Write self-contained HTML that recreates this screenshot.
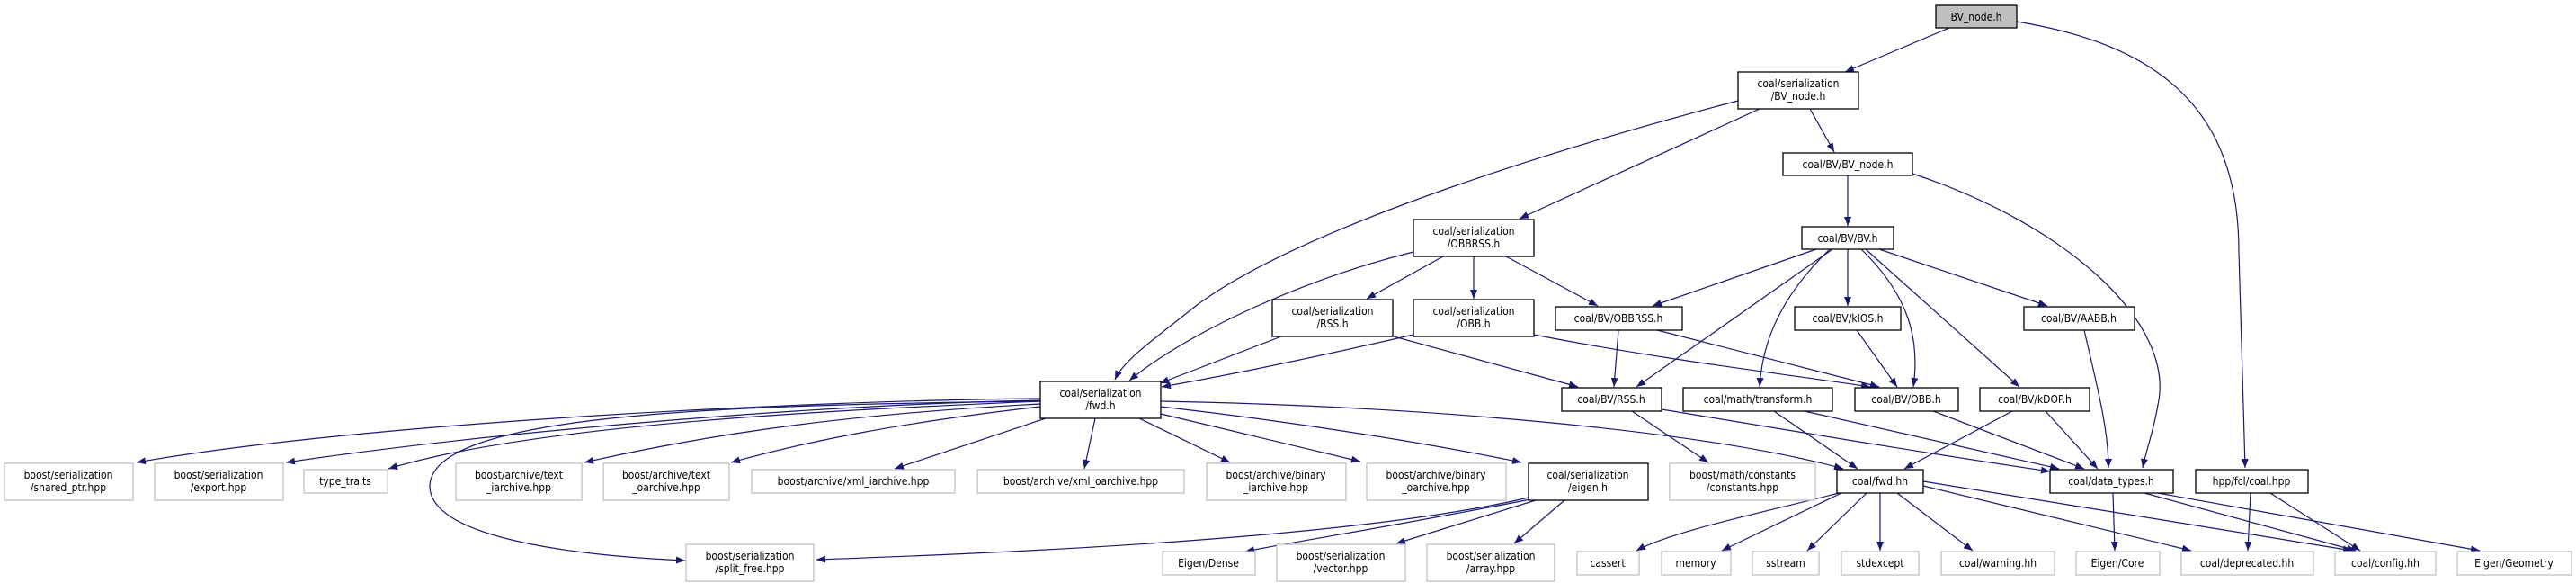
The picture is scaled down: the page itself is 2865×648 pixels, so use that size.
<!DOCTYPE html>
<html><head><meta charset="utf-8"><style>
html,body{margin:0;padding:0;background:#fff;}
svg{display:block;}
text{font-family:"DejaVu Sans Condensed","DejaVu Sans","Liberation Sans",sans-serif;font-size:12px;fill:#000;text-anchor:middle;}
.e{fill:none;stroke:#191970;stroke-width:1.2;marker-end:url(#a);}
.n{fill:#fff;stroke:#000;stroke-width:1.3;}
.x{fill:#fff;stroke:#bfbfbf;stroke-width:1.3;}
</style></head><body>
<svg width="2865" height="648" viewBox="0 0 2865 648" xmlns="http://www.w3.org/2000/svg">
<defs><marker id="a" markerUnits="userSpaceOnUse" markerWidth="11" markerHeight="8" refX="10" refY="4" orient="auto"><path d="M0,0 L10,4 L0,8 z" fill="#191970"/></marker></defs>
<!-- edges -->
<path class="e" d="M2168,31 L2052,80"/>
<path class="e" d="M2243,24 C2400,50 2490,120 2490,280 L2497,520"/>
<path class="e" d="M1933,112 C1750,160 1450,250 1330,340 C1280,380 1250,400 1240,422"/>
<path class="e" d="M1957,121 L1690,243"/>
<path class="e" d="M2013,121 L2040,169"/>
<path class="e" d="M2055,195 L2055,251"/>
<path class="e" d="M2127,193 C2300,250 2420,360 2400,450 C2395,480 2387,500 2383,520"/>
<path class="e" d="M2020,277 L1838,340"/>
<path class="e" d="M2038,277 L1820,430"/>
<path class="e" d="M2035,277 C1980,330 1960,380 1957,430"/>
<path class="e" d="M2055,277 L2055,340"/>
<path class="e" d="M2070,277 C2125,330 2135,380 2128,430"/>
<path class="e" d="M2075,277 L2246,430"/>
<path class="e" d="M2090,277 L2277,340"/>
<path class="e" d="M1572,280 C1450,310 1320,370 1256,423"/>
<path class="e" d="M1605,285 L1520,332"/>
<path class="e" d="M1639,285 L1639,332"/>
<path class="e" d="M1675,285 L1777,340"/>
<path class="e" d="M1425,374 L1290,426"/>
<path class="e" d="M1550,374 L1755,430"/>
<path class="e" d="M1572,372 C1450,400 1350,420 1292,430"/>
<path class="e" d="M1706,372 C1850,400 1980,415 2080,430"/>
<path class="e" d="M1800,367 L1795,430"/>
<path class="e" d="M1843,367 L2090,430"/>
<path class="e" d="M2065,367 L2110,430"/>
<path class="e" d="M2318,367 C2335,440 2345,480 2345,520"/>
<path class="e" d="M1815,457 L1900,514"/>
<path class="e" d="M1848,455 C2000,480 2150,505 2280,524"/>
<path class="e" d="M1973,457 L2066,521"/>
<path class="e" d="M2007,457 L2290,521"/>
<path class="e" d="M2150,457 L2318,521"/>
<path class="e" d="M2238,457 L2118,521"/>
<path class="e" d="M2275,457 L2333,521"/>
<path class="e" d="M1157,443 C900,445 400,470 152,514"/>
<path class="e" d="M1157,445 C900,450 550,480 318,514"/>
<path class="e" d="M1157,446 C950,455 600,470 432,521"/>
<path class="e" d="M1157,446 C800,450 480,460 478,540 C478,600 650,618 762,623"/>
<path class="e" d="M1157,449 C950,460 800,480 650,514"/>
<path class="e" d="M1157,452 C1000,470 900,490 813,514"/>
<path class="e" d="M1163,465 L995,521"/>
<path class="e" d="M1218,465 L1206,521"/>
<path class="e" d="M1267,465 L1368,514"/>
<path class="e" d="M1291,460 L1513,513"/>
<path class="e" d="M1291,452 C1450,470 1600,495 1692,514"/>
<path class="e" d="M1291,446 C1600,452 1900,480 2050,521"/>
<path class="e" d="M1700,553 C1500,600 1100,615 908,622"/>
<path class="e" d="M1702,555 C1550,585 1450,600 1385,613"/>
<path class="e" d="M1708,556 L1553,604"/>
<path class="e" d="M1740,556 L1684,604"/>
<path class="e" d="M2045,548 C1960,570 1860,590 1820,612"/>
<path class="e" d="M2048,548 L1915,612"/>
<path class="e" d="M2076,548 L2010,612"/>
<path class="e" d="M2091,548 L2091,612"/>
<path class="e" d="M2110,548 L2194,612"/>
<path class="e" d="M2139,540 L2437,612"/>
<path class="e" d="M2139,535 L2616,612"/>
<path class="e" d="M2350,548 L2352,612"/>
<path class="e" d="M2385,548 L2620,612"/>
<path class="e" d="M2400,548 L2758,612"/>
<path class="e" d="M2503,548 L2500,612"/>
<path class="e" d="M2525,548 L2625,612"/>
<!-- nodes -->
<rect x="2153" y="6" width="90" height="25" fill="#bfbfbf" stroke="#000" stroke-width="1.3"/><text x="2198" y="23">BV_node.h</text>
<rect class="n" x="1933" y="80" width="134" height="41"/><text x="2000" y="97">coal/serialization</text><text x="2000" y="111">/BV_node.h</text>
<rect class="n" x="1983" y="170" width="144" height="25"/><text x="2055" y="187">coal/BV/BV_node.h</text>
<rect class="n" x="2004" y="252" width="102" height="25"/><text x="2055" y="269">coal/BV/BV.h</text>
<rect class="n" x="1572" y="244" width="134" height="41"/><text x="1639" y="261">coal/serialization</text><text x="1639" y="275">/OBBRSS.h</text>
<rect class="n" x="1415" y="333" width="134" height="41"/><text x="1482" y="350">coal/serialization</text><text x="1482" y="364">/RSS.h</text>
<rect class="n" x="1572" y="333" width="134" height="41"/><text x="1639" y="350">coal/serialization</text><text x="1639" y="364">/OBB.h</text>
<rect class="n" x="1730" y="341" width="141" height="26"/><text x="1800" y="358">coal/BV/OBBRSS.h</text>
<rect class="n" x="1996" y="341" width="118" height="26"/><text x="2055" y="358">coal/BV/kIOS.h</text>
<rect class="n" x="2251" y="341" width="123" height="26"/><text x="2312" y="358">coal/BV/AABB.h</text>
<rect class="n" x="1157" y="424" width="134" height="41"/><text x="1224" y="441">coal/serialization</text><text x="1224" y="455">/fwd.h</text>
<rect class="n" x="1737" y="431" width="111" height="26"/><text x="1792" y="448">coal/BV/RSS.h</text>
<rect class="n" x="1872" y="431" width="166" height="26"/><text x="1955" y="448">coal/math/transform.h</text>
<rect class="n" x="2063" y="431" width="115" height="26"/><text x="2120" y="448">coal/BV/OBB.h</text>
<rect class="n" x="2202" y="431" width="122" height="26"/><text x="2263" y="448">coal/BV/kDOP.h</text>
<rect class="x" x="5" y="515" width="143" height="41"/><text x="76" y="532">boost/serialization</text><text x="76" y="546">/shared_ptr.hpp</text>
<rect class="x" x="172" y="515" width="143" height="41"/><text x="243" y="532">boost/serialization</text><text x="243" y="546">/export.hpp</text>
<rect class="x" x="338" y="522" width="93" height="26"/><text x="384" y="539">type_traits</text>
<rect class="x" x="507" y="515" width="140" height="41"/><text x="577" y="532">boost/archive/text</text><text x="577" y="546">_iarchive.hpp</text>
<rect class="x" x="671" y="515" width="140" height="41"/><text x="741" y="532">boost/archive/text</text><text x="741" y="546">_oarchive.hpp</text>
<rect class="x" x="836" y="522" width="226" height="26"/><text x="949" y="539">boost/archive/xml_iarchive.hpp</text>
<rect class="x" x="1087" y="522" width="230" height="26"/><text x="1202" y="539">boost/archive/xml_oarchive.hpp</text>
<rect class="x" x="1342" y="515" width="155" height="41"/><text x="1419" y="532">boost/archive/binary</text><text x="1419" y="546">_iarchive.hpp</text>
<rect class="x" x="1520" y="515" width="155" height="41"/><text x="1597" y="532">boost/archive/binary</text><text x="1597" y="546">_oarchive.hpp</text>
<rect class="n" x="1700" y="515" width="133" height="41"/><text x="1766" y="532">coal/serialization</text><text x="1766" y="546">/eigen.h</text>
<rect class="x" x="1857" y="515" width="162" height="41"/><text x="1938" y="532">boost/math/constants</text><text x="1938" y="546">/constants.hpp</text>
<rect class="n" x="2043" y="522" width="96" height="26"/><text x="2091" y="539">coal/fwd.hh</text>
<rect class="n" x="2280" y="522" width="137" height="26"/><text x="2348" y="539">coal/data_types.h</text>
<rect class="n" x="2442" y="522" width="125" height="26"/><text x="2504" y="539">hpp/fcl/coal.hpp</text>
<rect class="x" x="763" y="605" width="142" height="41"/><text x="834" y="622">boost/serialization</text><text x="834" y="636">/split_free.hpp</text>
<rect class="x" x="1293" y="613" width="103" height="26"/><text x="1344" y="630">Eigen/Dense</text>
<rect class="x" x="1420" y="605" width="143" height="41"/><text x="1491" y="622">boost/serialization</text><text x="1491" y="636">/vector.hpp</text>
<rect class="x" x="1587" y="605" width="142" height="41"/><text x="1658" y="622">boost/serialization</text><text x="1658" y="636">/array.hpp</text>
<rect class="x" x="1754" y="613" width="69" height="26"/><text x="1788" y="630">cassert</text>
<rect class="x" x="1848" y="613" width="77" height="26"/><text x="1886" y="630">memory</text>
<rect class="x" x="1949" y="613" width="74" height="26"/><text x="1986" y="630">sstream</text>
<rect class="x" x="2048" y="613" width="86" height="26"/><text x="2091" y="630">stdexcept</text>
<rect class="x" x="2159" y="613" width="126" height="26"/><text x="2222" y="630">coal/warning.hh</text>
<rect class="x" x="2309" y="613" width="93" height="26"/><text x="2355" y="630">Eigen/Core</text>
<rect class="x" x="2426" y="613" width="147" height="26"/><text x="2499" y="630">coal/deprecated.hh</text>
<rect class="x" x="2597" y="613" width="112" height="26"/><text x="2653" y="630">coal/config.hh</text>
<rect class="x" x="2733" y="613" width="127" height="26"/><text x="2796" y="630">Eigen/Geometry</text>
</svg>
</body></html>
